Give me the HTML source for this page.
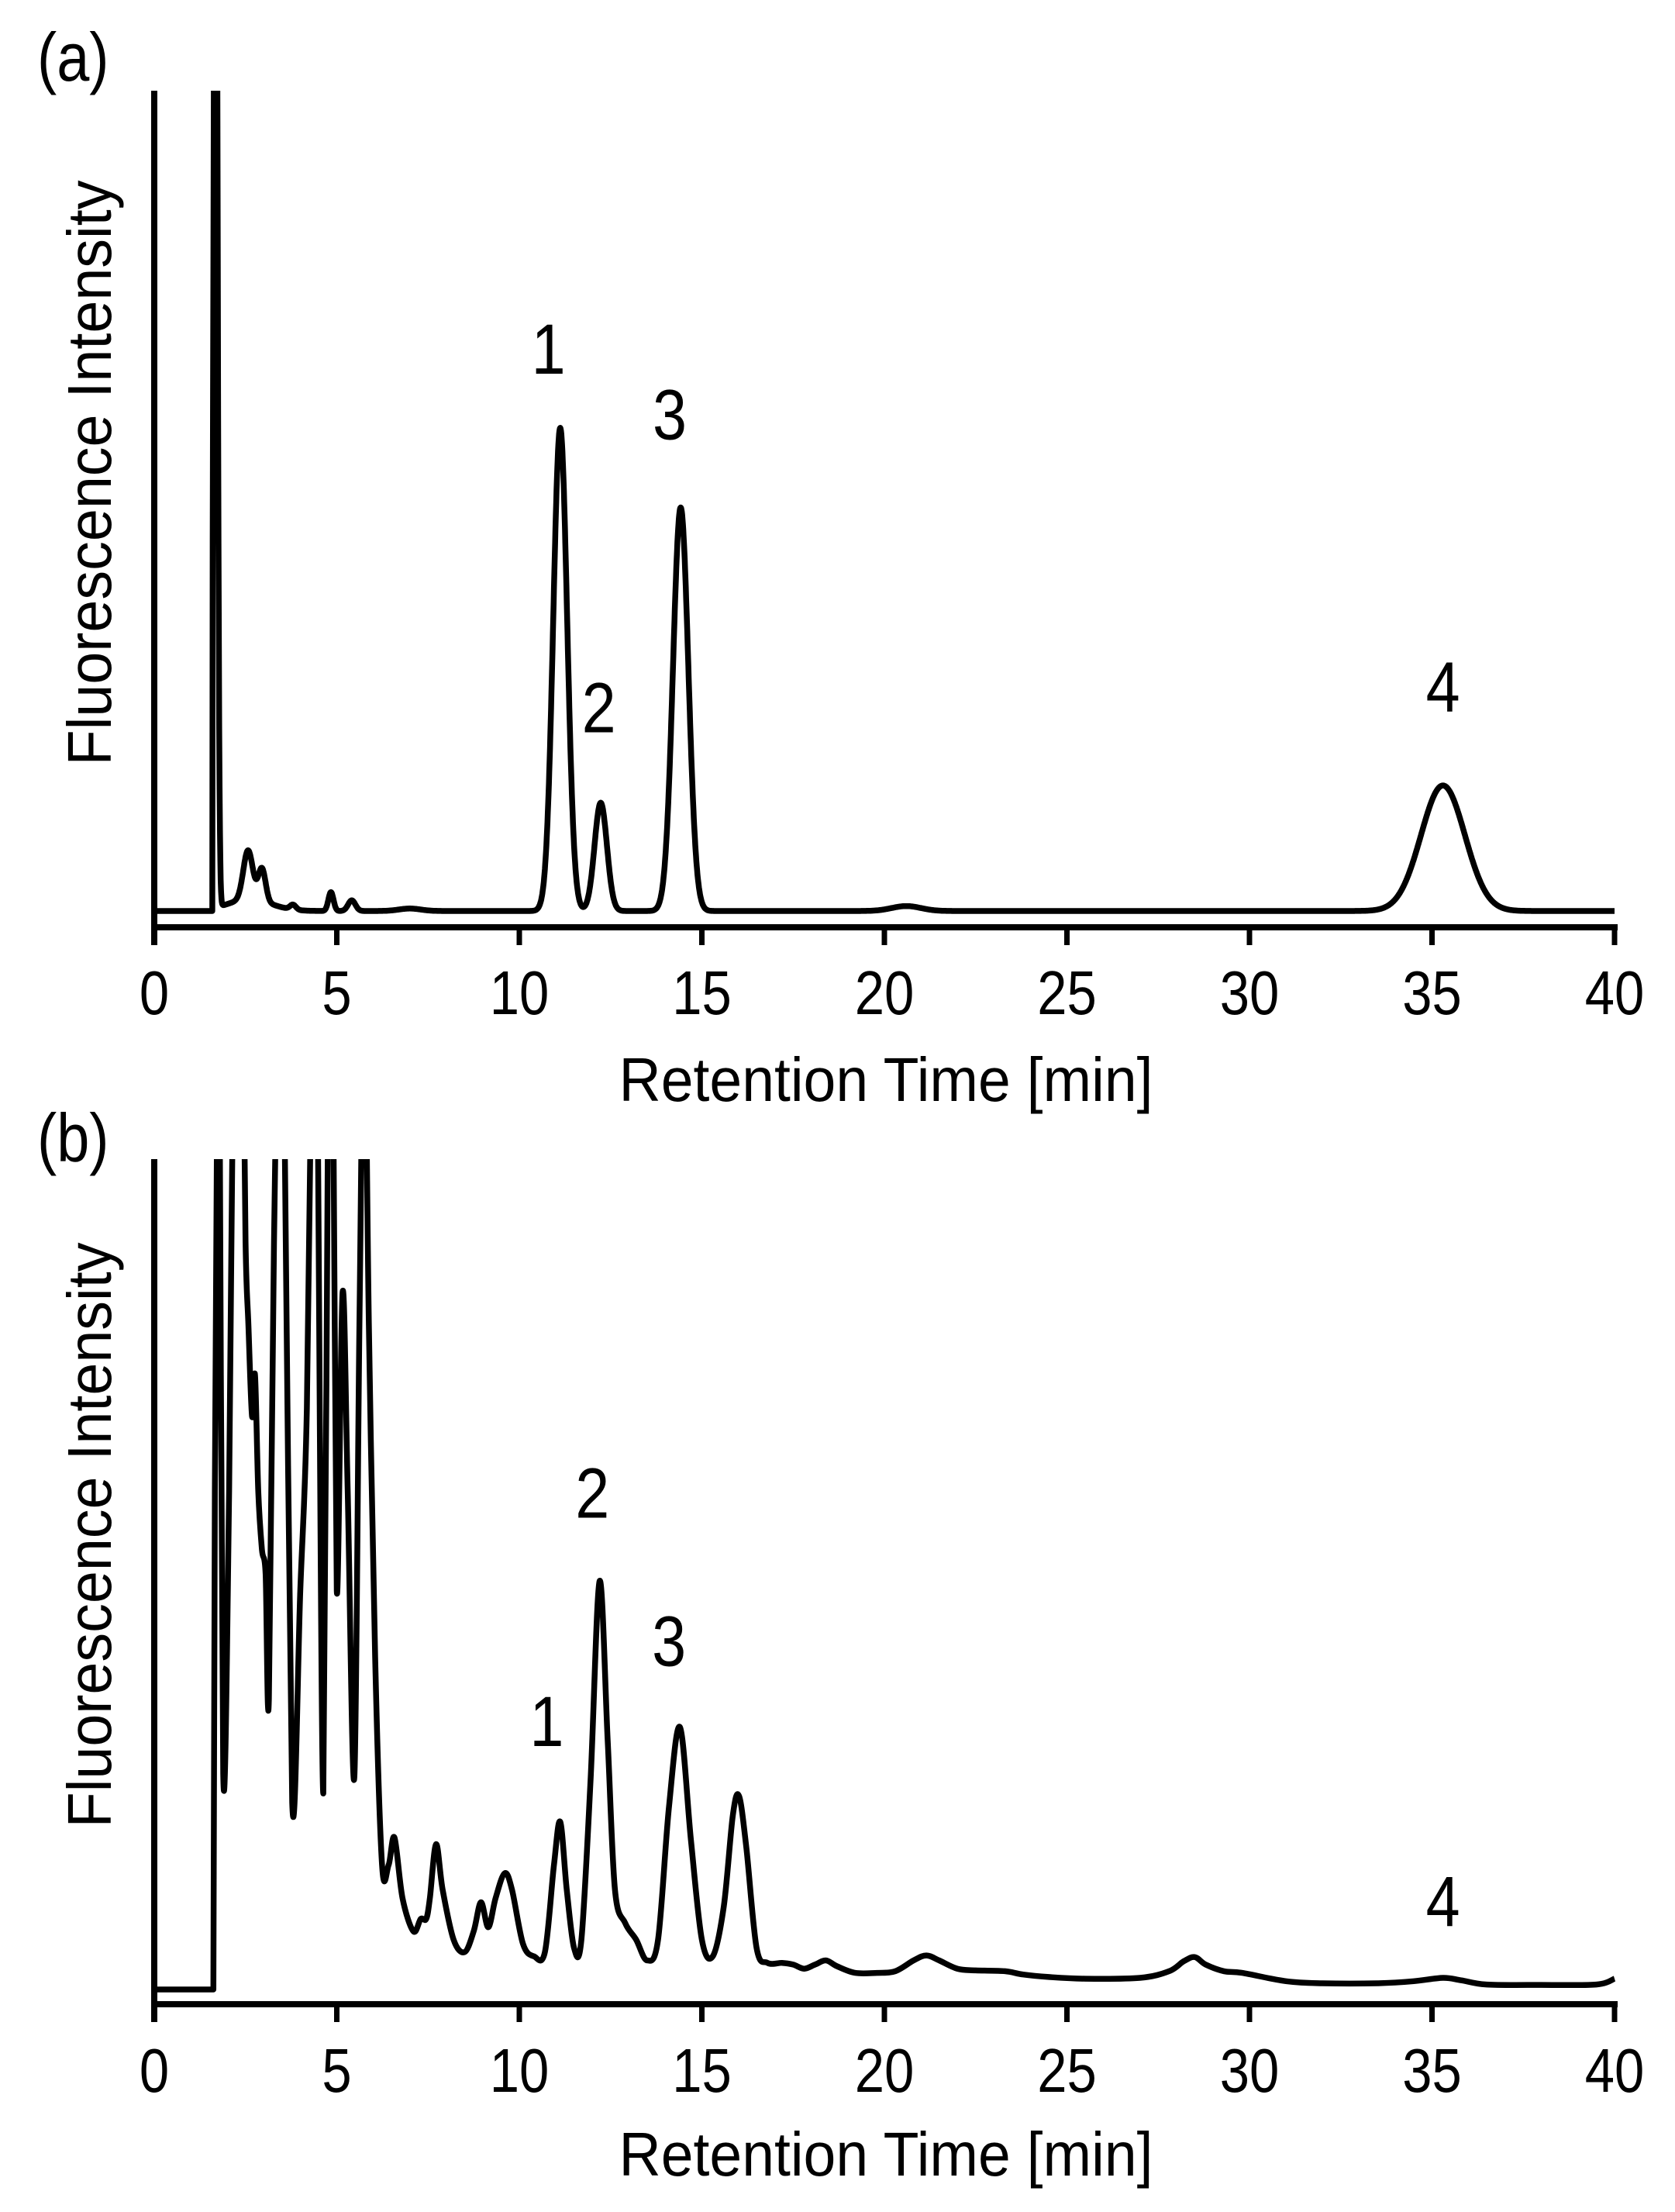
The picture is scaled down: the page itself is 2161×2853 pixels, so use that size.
<!DOCTYPE html>
<html><head><meta charset="utf-8">
<style>
html,body{margin:0;padding:0;background:#fff;}
svg{display:block;}
text{font-family:"Liberation Sans",Arial,sans-serif;fill:#000;}
</style></head>
<body>
<svg id="fig" width="2161" height="2853" viewBox="0 0 2161 2853" xmlns="http://www.w3.org/2000/svg">
<defs>
<clipPath id="clipA"><rect x="199" y="117" width="1890" height="1080"/></clipPath>
<clipPath id="clipB"><rect x="199" y="1495" width="1890" height="1090"/></clipPath>
</defs>
<g id="panelA"></g>
<g id="panelB"></g>
</svg>
<script>
// ---- shared axis data ----
const xTicks = [0, 5, 10, 15, 20, 25, 30, 35, 40];
const xTickLabels = ["0", "5", "10", "15", "20", "25", "30", "35", "40"];

// ---- panel (a): Gaussian peaks (time [min], height [% of axis], sigma [min]) ----
const aPeakTimes   = [1.68, 2.57, 2.95, 3.8, 4.84, 5.41, 7.0, 11.12, 12.23, 14.42, 20.6, 35.3, 2.6];
const aPeakHeights = [160, 6.0, 4.0, 0.6, 2.3, 1.3, 0.3, 58.9, 13.2, 49.2, 0.6, 15.3, 1.4];
const aPeakWidths  = [0.05, 0.13, 0.1, 0.08, 0.07, 0.1, 0.3, 0.19, 0.17, 0.21, 0.4, 0.6, 0.6];
const aLabels = ["1", "2", "3", "4"];
const aLabelTimes = [10.8, 12.18, 14.12, 35.3];
const aLabelValues = [65.5, 21.8, 57.5, 24.3];

// ---- panel (b): sampled trace (time [min], intensity [% of axis]) ----
const bTimes = [0,1.62,1.66,1.74,1.78,1.89,2.05,2.18,2.3,2.42,2.5,2.58,2.68,2.76,2.85,2.95,3.05,3.14,3.28,3.42,3.58,3.78,4.0,4.18,4.33,4.45,4.63,4.78,4.9,5.0,5.16,5.3,5.48,5.62,5.75,5.88,6.05,6.24,6.42,6.58,6.8,7.1,7.3,7.45,7.55,7.72,7.9,8.2,8.5,8.75,8.95,9.15,9.35,9.6,9.8,10.1,10.4,10.7,10.95,11.12,11.3,11.5,11.7,11.95,12.2,12.42,12.62,12.9,13.2,13.5,13.8,14.1,14.4,14.7,15.0,15.3,15.6,15.85,16.02,16.22,16.5,16.8,17.2,17.5,17.8,18.1,18.4,18.7,19.2,19.8,20.3,20.8,21.15,21.5,22.0,22.5,23.3,23.8,24.5,25.5,27.0,27.8,28.2,28.5,28.8,29.3,29.8,31.0,32.0,33.5,34.5,35.3,35.8,36.5,38.0,39.5,40.0];
const bValues = [0,0,60,120,120,26,60,120,120,120,90,80,69,74,60,53,50,35,90,120,100,22.5,48,70,120,120,23.6,120,110,48,84,60,25.5,80,120,80,40,15,15,18.3,11,7,8.5,8.5,11,17.5,12,6,4.5,7,10.5,7.5,11,14,12,5.5,4,4.5,15,20.2,12,5,6,25,49.2,30,12,8,6,3.5,6,22,31.6,18,6,4,10,21,23.3,17,5,3.2,3.2,3,2.5,3,3.5,2.8,2,2,2.2,3.5,4.1,3.5,2.5,2.3,2.2,1.8,1.5,1.3,1.4,2.2,3.4,3.9,3,2.2,2.0,1.0,0.75,0.75,1.0,1.4,1.1,0.6,0.55,0.6,1.3];
const bLabels = ["1", "2", "3", "4"];
const bLabelTimes = [10.75, 12.0, 14.1, 35.3];
const bLabelValues = [29.3, 56.8, 39.0, 7.6];

const NS = "http://www.w3.org/2000/svg";
function mk(parent, tag, attrs, txt) {
  const el = document.createElementNS(NS, tag);
  for (const k in attrs) el.setAttribute(k, attrs[k]);
  if (txt !== undefined) el.textContent = txt;
  parent.appendChild(el);
  return el;
}
const X0 = 199, X1 = 2083;
const SX = 0.86;
function xScale(t) { return X0 + (X1 - X0) * t / 40; }

function smoothPath(pts, linearSegs) {
  let d = "M" + pts[0][0].toFixed(1) + "," + pts[0][1].toFixed(1);
  for (let i = 0; i < pts.length - 1; i++) {
    const p0 = pts[Math.max(0, i - 1)], p1 = pts[i], p2 = pts[i + 1], p3 = pts[Math.min(pts.length - 1, i + 2)];
    if (i < linearSegs) { d += "L" + p2[0].toFixed(1) + "," + p2[1].toFixed(1); continue; }
    const k = 1 / 6;
    const c1x = p1[0] + (p2[0] - p0[0]) * k, c1y = p1[1] + (p2[1] - p0[1]) * k;
    const c2x = p2[0] - (p3[0] - p1[0]) * k, c2y = p2[1] - (p3[1] - p1[1]) * k;
    d += "C" + c1x.toFixed(1) + "," + c1y.toFixed(1) + " " + c2x.toFixed(1) + "," + c2y.toFixed(1) + " " + p2[0].toFixed(1) + "," + p2[1].toFixed(1);
  }
  return d;
}

function drawPanel(g, cfg) {
  const yScale = v => cfg.base - (cfg.base - cfg.top) * v / 100;
  const px = cfg.points.map(p => [xScale(p[0]), yScale(p[1])]);
  let d;
  if (cfg.smooth) d = smoothPath(px, 3);
  else d = px.map((p, i) => (i ? "L" : "M") + p[0].toFixed(1) + "," + p[1].toFixed(1)).join("");
  const trace = mk(g, "path", {d: d, fill: "none", stroke: "#000", "stroke-width": 7.5, "stroke-linejoin": "round", "clip-path": "url(#" + cfg.clip + ")"});
  
  
  const yAxis = mk(g, "line", {x1: 199, y1: cfg.top, x2: 199, y2: cfg.axisY + 23, stroke: "#000", "stroke-width": 8});
  
  
  const xAxis = mk(g, "line", {x1: 195, y1: cfg.axisY, x2: 2087, y2: cfg.axisY, stroke: "#000", "stroke-width": 8});
  
  
  xTicks.forEach((t, i) => {
    const tk = mk(g, "line", {x1: xScale(t), y1: cfg.axisY, x2: xScale(t), y2: cfg.axisY + 23, stroke: "#000", "stroke-width": 7});
    
    
    const tl = mk(g, "text", {x: xScale(t) / SX, y: cfg.tickLabelY, "font-size": 80, "text-anchor": "middle", transform: "scale(" + SX + ",1)"}, xTickLabels[i]);
    
    
  });
  const xt = mk(g, "text", {x: 1143, y: cfg.xTitleY, "font-size": 80, "text-anchor": "middle", textLength: 689, lengthAdjust: "spacingAndGlyphs"}, "Retention Time [min]");
  
  
  const yt = mk(g, "text", {x: 0, y: 0, "font-size": 80, "text-anchor": "middle", textLength: 755, lengthAdjust: "spacingAndGlyphs", transform: "translate(143," + cfg.yTitleY + ") rotate(-90)"}, "Fluorescence Intensity");
  
  
  const pl = mk(g, "text", {x: 48 / SX, y: cfg.panelLabelY, "font-size": 88, transform: "scale(" + SX + ",1)"}, cfg.panelLabel);
  
  
  cfg.labels.forEach((s, i) => {
    const lb = mk(g, "text", {x: xScale(cfg.labelTimes[i]) / SX, y: yScale(cfg.labelValues[i]), "font-size": 92, "text-anchor": "middle", transform: "scale(" + SX + ",1)"}, s);
    
    
  });
}

const aPoints = [];
for (let t = 0; t <= 40.0001; t += 0.01) {
  let v = 0;
  if (t >= 1.6) {
    for (let k = 0; k < aPeakTimes.length; k++) {
      const z = (t - aPeakTimes[k]) / aPeakWidths[k];
      v += aPeakHeights[k] * Math.exp(-0.5 * z * z);
    }
  }
  aPoints.push([t, v]);
}
const bPoints = bTimes.map((t, i) => [t, bValues[i]]);

drawPanel(document.getElementById("panelA"), {
  points: aPoints, smooth: false, base: 1175, top: 117, axisY: 1196, clip: "clipA",
  tickLabelY: 1308, xTitleY: 1420, yTitleY: 610, panelLabel: "(a)", panelLabelY: 104,
  labels: aLabels, labelTimes: aLabelTimes, labelValues: aLabelValues
});
drawPanel(document.getElementById("panelB"), {
  points: bPoints, smooth: true, base: 2566, top: 1495, axisY: 2585, clip: "clipB",
  tickLabelY: 2698, xTitleY: 2806, yTitleY: 1980, panelLabel: "(b)", panelLabelY: 1498,
  labels: bLabels, labelTimes: bLabelTimes, labelValues: bLabelValues
});
</script>
</body></html>
